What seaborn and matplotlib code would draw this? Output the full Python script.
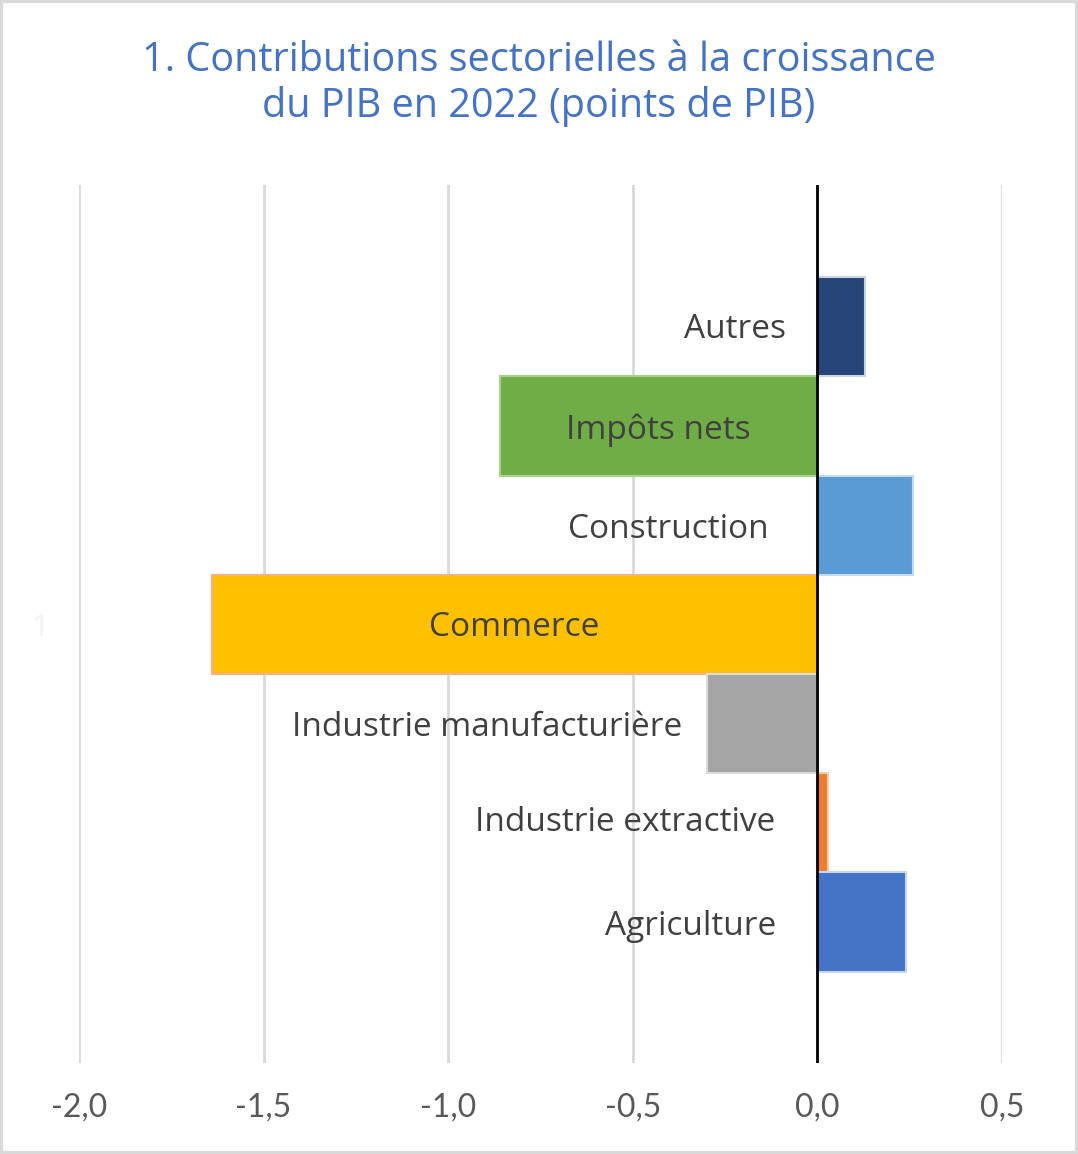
import matplotlib
matplotlib.use("Agg")
import matplotlib.pyplot as plt
import seaborn as sns
import pandas as pd
from matplotlib.patches import Rectangle

# Data: sectoral contributions to GDP growth in 2022 (points of GDP)
sectors = ["Autres", "Impôts nets", "Construction", "Commerce",
           "Industrie manufacturière", "Industrie extractive", "Agriculture"]
contributions = [0.13, -0.86, 0.26, -1.64, -0.30, 0.03, 0.24]
colors = ["#264478", "#70AD47", "#5B9BD5", "#FFC000", "#A5A5A5", "#ED7D31", "#4472C4"]
edge_colors = ["#C9D3E6", "#A9D18E", "#C4DAF0", "#F4B183", "#DBDBDB", "#F8CBAD", "#C7D4EE"]
x_ticks = [-2.0, -1.5, -1.0, -0.5, 0.0, 0.5]
title = "1. Contributions sectorielles à la croissance\ndu PIB en 2022 (points de PIB)"

df = pd.DataFrame({"secteur": sectors, "contribution": contributions})

sns.set_theme(style="white")
plt.rcParams["font.family"] = ["Open Sans", "DejaVu Sans"]

fig = plt.figure(figsize=(10.78, 11.54), dpi=100)
ax = fig.add_axes([0.0733, 0.0789, 0.8562, 0.7608])

sns.barplot(data=df, y="secteur", x="contribution", hue="secteur",
            palette=colors, saturation=1, orient="h", width=1.0,
            legend=False, ax=ax, order=sectors, hue_order=sectors)

for patch, ec in zip(ax.patches, edge_colors):
    patch.set_edgecolor(ec)
    patch.set_linewidth(1.5)

# Label placement (x in data units, centred)
label_x = [-0.224, -0.43, -0.405, -0.822, -0.895, -0.522, -0.343]
label_dy = [0.03, 0.04, 0.04, 0.035, 0.035, 0.0, 0.045]
for i, (name, lx) in enumerate(zip(sectors, label_x)):
    ax.text(lx, i + label_dy[i], name, ha="center", va="center",
            fontsize=24, color="#404040", zorder=5)

ax.set_xlim(-2.0, 0.5)
ax.set_ylim(7.42, -1.43)
ax.set_xticks(x_ticks)
ax.set_xticklabels([f"{t:.1f}".replace(".", ",") for t in x_ticks],
                   fontsize=23, color="#595959", family=["Lato", "DejaVu Sans"])
ax.set_yticks([3])
ax.set_yticklabels(["1"], fontsize=22, color="#F2F2F2")
ax.tick_params(axis="x", length=0, pad=21)
ax.tick_params(axis="y", length=0, pad=22)
ax.set_xlabel("")
ax.set_ylabel("")

ax.grid(axis="x", color="#D9D9D9", linewidth=2)
ax.set_axisbelow(True)
ax.axvline(0, color="black", linewidth=2, zorder=4)
for s in ax.spines.values():
    s.set_visible(False)

fig.text(0.5, 0.9275, title, ha="center", va="center", fontsize=28.5,
         color="#4472C4", linespacing=1.14)

fig.patches.append(Rectangle((0.001, 0.001), 0.998, 0.998, transform=fig.transFigure,
                             fill=False, edgecolor="#D9D9D9", linewidth=3))

fig.savefig("out.png", dpi=100, facecolor="white")
